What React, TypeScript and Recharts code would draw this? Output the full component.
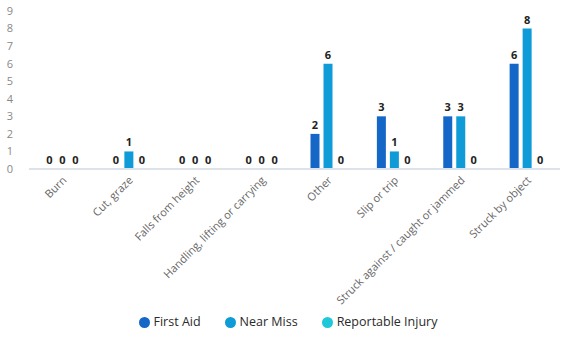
import React from "react";
import { BarChart, Bar, XAxis, YAxis, Legend } from "recharts";

const categories = [
  "Burn",
  "Cut, graze",
  "Falls from height",
  "Handling, lifting or carrying",
  "Other",
  "Slip or trip",
  "Struck against / caught or jammed",
  "Struck by object",
];
const firstAid = [0, 0, 0, 0, 2, 3, 3, 6];
const nearMiss = [0, 1, 0, 0, 6, 1, 3, 8];
const reportable = [0, 0, 0, 0, 0, 0, 0, 0];
const yTicks = [0, 1, 2, 3, 4, 5, 6, 7, 8, 9];

const FONT = "'Open Sans', 'Noto Sans', sans-serif";

const data = categories.map((name, i) => ({
  name,
  firstAid: firstAid[i],
  nearMiss: nearMiss[i],
  reportable: reportable[i],
}));

function XTick(props: any) {
  const { x, y, payload } = props;
  return (
    <g transform={`translate(${x + 5},${y + 4})`}>
      <text transform="rotate(-45)" textAnchor="end" fill="#666" fontSize={11} fontFamily={FONT}>
        {payload.value}
      </text>
    </g>
  );
}

// value labels, drawn for zero-height bars too
function ValueLabel(props: any) {
  const { x, y, width, value } = props;
  return (
    <text
      x={x + width / 2}
      y={y - 5}
      textAnchor="middle"
      fill="#222"
      fontSize={11}
      fontWeight={700}
      fontFamily={FONT}
    >
      {value}
    </text>
  );
}

export default function App() {
  return (
    <div style={{ position: "absolute", left: 0, top: 0, width: 569, height: 345, background: "#fff" }}>
      <BarChart
        width={569}
        height={345}
        data={data}
        margin={{ top: 11, right: 9, left: 0, bottom: 2 }}
        barSize={9}
        barGap={4}
      >
        <XAxis
          dataKey="name"
          interval={0}
          tickLine={false}
          axisLine={{ stroke: "#dde3ea", strokeWidth: 2 }}
          tick={<XTick />}
          height={144}
        />
        <YAxis
          domain={[0, 9]}
          ticks={yTicks}
          interval={0}
          axisLine={false}
          tickLine={false}
          width={29}
          tick={{ fill: "#888", fontSize: 11, fontFamily: FONT }}
          tickMargin={10}
        />
        <Legend
          verticalAlign="bottom"
          iconType="circle"
          iconSize={11}
          height={30}
          wrapperStyle={{ fontFamily: FONT, fontSize: 12.5, color: "#333", left: 20 }}
          formatter={(v: string) => <span style={{ color: "#2a2a2a", marginRight: 14 }}>{v}</span>}
        />
        <Bar dataKey="firstAid" name="First Aid" fill="#1467c7" isAnimationActive={false} minPointSize={0.01} label={<ValueLabel />} />
        <Bar dataKey="nearMiss" name="Near Miss" fill="#0f9bd7" isAnimationActive={false} minPointSize={0.01} label={<ValueLabel />} />
        <Bar dataKey="reportable" name="Reportable Injury" fill="#1ec8d8" isAnimationActive={false} minPointSize={0.01} label={<ValueLabel />} />
      </BarChart>
    </div>
  );
}
